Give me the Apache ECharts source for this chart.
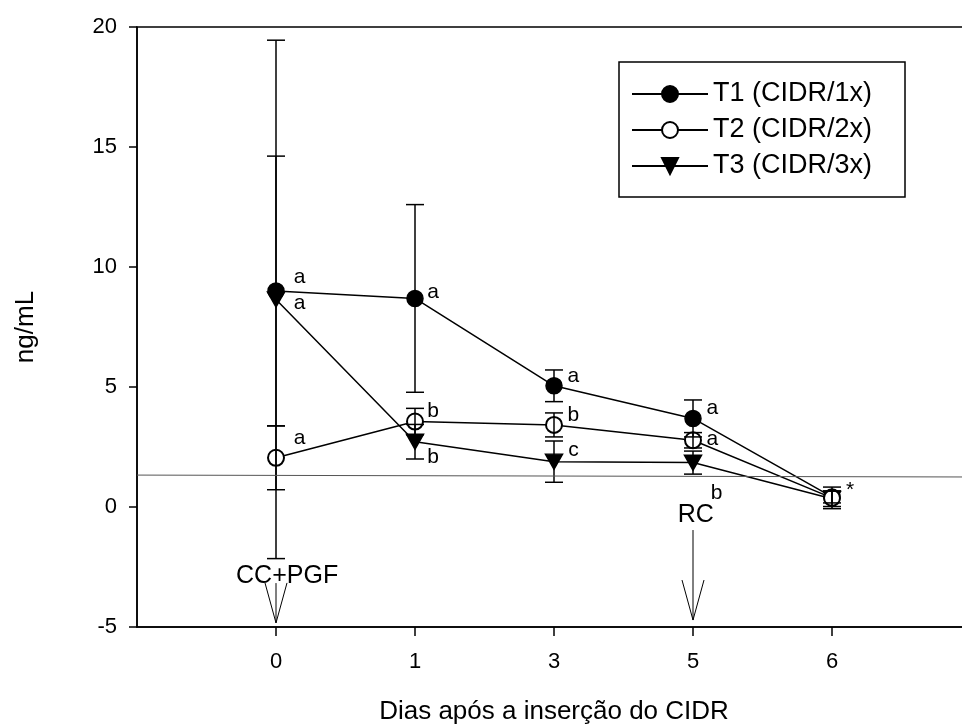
<!DOCTYPE html>
<html>
<head>
<meta charset="utf-8">
<script src="https://cdn.jsdelivr.net/npm/echarts@6/dist/echarts.min.js"></script>
<style>
  html, body { margin: 0; padding: 0; background: #fff; }
  #chart { width: 962px; height: 726px; }
</style>
</head>
<body>
<div id="chart"></div>
<script>
// days are placed at evenly spaced positions 0..4 on a value axis
const days = ['0', '1', '3', '5', '6']
const seriesNames = ['T1 (CIDR/1x)', 'T2 (CIDR/2x)', 'T3 (CIDR/3x)']

const t1Mean = [9.0, 8.69, 5.05, 3.69, 0.42]
const t1Err = [5.62, 3.91, 0.66, 0.77, 0.25]
const t2Mean = [2.05, 3.56, 3.42, 2.78, 0.38]
const t2Err = [1.33, 0.55, 0.50, 0.32, 0.45]
const t3Mean = [8.65, 2.72, 1.89, 1.85, 0.34]
const t3Err = [10.8, 0.72, 0.86, 0.48, 0.32]

const yTicks = [-5, 0, 5, 10, 15, 20]

// reference line drawn across the plot
const refLine = [[-1, 1.33], [5, 1.25]]

// event arrows (CC+PGF, RC)
const arrowX = [0, 3]
const arrowTop = [-3.17, -0.96]
const arrowBottom = [-4.83, -4.71]
const arrowLabel = ['CC+PGF', 'RC']
const arrowLabelX = [0.08, 3.02]
const arrowLabelY = [-2.87, -0.33]

// significance letters
const annText = ['a', 'a', 'a', 'a', 'b', 'b', 'a', 'b', 'c', 'a', 'a', 'b', '*']
const annX = [0.17, 0.17, 0.17, 1.13, 1.13, 1.13, 2.14, 2.14, 2.14, 3.14, 3.14, 3.17, 4.13]
const annY = [9.58, 8.5, 2.88, 8.96, 4.0, 2.08, 5.46, 3.83, 2.38, 4.13, 2.83, 0.58, 0.72]

const FONT = '"Liberation Sans", Arial, sans-serif'
const downTriangle = 'path://M0,0 L20,0 L10,17 Z'

function pairs (ys) {
  return ys.map((y, i) => [i, y])
}

function errData (mean, err) {
  return mean.map((m, i) => [i, m - err[i], m + err[i]])
}

function errorBarItem (params, api) {
  const x = api.value(0)
  const lo = api.coord([x, api.value(1)])
  const hi = api.coord([x, api.value(2)])
  const w = 9
  const style = { stroke: '#000', lineWidth: 1.5 }
  return {
    type: 'group',
    children: [
      { type: 'line', shape: { x1: lo[0], y1: lo[1], x2: hi[0], y2: hi[1] }, style },
      { type: 'line', shape: { x1: lo[0] - w, y1: lo[1], x2: lo[0] + w, y2: lo[1] }, style },
      { type: 'line', shape: { x1: hi[0] - w, y1: hi[1], x2: hi[0] + w, y2: hi[1] }, style }
    ]
  }
}

function arrowItem (params, api) {
  const x = api.value(0)
  const top = api.coord([x, api.value(1)])
  const bot = api.coord([x, api.value(2)])
  const style = { stroke: '#000', lineWidth: 1, fill: null }
  return {
    type: 'group',
    children: [
      { type: 'line', shape: { x1: top[0], y1: top[1], x2: bot[0], y2: bot[1] }, style },
      { type: 'polyline', shape: { points: [[bot[0] - 11, bot[1] - 40], [bot[0], bot[1]], [bot[0] + 11, bot[1] - 40]] }, style }
    ]
  }
}

function lineSeries (name, mean, symbol, extra) {
  return Object.assign({
    name: name,
    type: 'line',
    data: pairs(mean),
    symbol: symbol,
    symbolSize: 16,
    showAllSymbol: true,
    lineStyle: { color: '#000', width: 1.5 },
    itemStyle: { color: '#000', borderColor: '#000', borderWidth: 1.5 },
    z: 2
  }, extra || {})
}

function errSeries (mean, err) {
  return {
    type: 'custom',
    renderItem: errorBarItem,
    data: errData(mean, err),
    silent: true,
    z: 4
  }
}

function textLabels (names, xs, ys, size) {
  return {
    type: 'scatter',
    symbolSize: 0,
    silent: true,
    z: 5,
    itemStyle: { opacity: 1, color: '#000' },
    data: names.map((t, i) => ({ value: [xs[i], ys[i]], name: t })),
    label: {
      show: true,
      position: 'inside',
      formatter: p => p.name,
      fontFamily: FONT,
      fontSize: size,
      color: '#000',
      opacity: 1,
      textBorderWidth: 0,
      textBorderColor: 'transparent'
    }
  }
}

const chart = echarts.init(document.getElementById('chart'))

const option = {
  backgroundColor: '#fff',
  animation: false,
  textStyle: { fontFamily: FONT, color: '#000' },
  grid: {
    left: 137,
    top: 27,
    width: 834,
    height: 600,
    show: true,
    borderColor: '#000',
    borderWidth: 1.5,
    backgroundColor: '#fff',
    outerBoundsMode: 'none'
  },
  legend: {
    orient: 'vertical',
    left: 619,
    top: 62,
    padding: [17, 33, 16, 12],
    itemWidth: 76,
    itemHeight: 20,
    itemGap: 6,
    borderColor: '#000',
    borderWidth: 1.5,
    backgroundColor: '#fff',
    textStyle: { fontFamily: FONT, fontSize: 27, color: '#000', lineHeight: 30 },
    data: seriesNames
  },
  xAxis: {
    type: 'value',
    min: -1,
    max: 5,
    interval: 1,
    name: 'Dias após a inserção do CIDR',
    nameLocation: 'middle',
    nameGap: 72,
    nameMoveOverlap: false,
    nameTextStyle: { fontFamily: FONT, fontSize: 26, color: '#000' },
    axisLine: { show: true, onZero: false, lineStyle: { color: '#000', width: 1.5 } },
    axisTick: { show: true, inside: false, length: 9, customValues: [0, 1, 2, 3, 4], lineStyle: { color: '#000', width: 1.5 } },
    axisLabel: {
      show: true,
      margin: 24,
      customValues: [0, 1, 2, 3, 4],
      fontFamily: FONT,
      fontSize: 22,
      color: '#000',
      formatter: v => days[Math.round(v)] || ''
    },
    splitLine: { show: false }
  },
  yAxis: {
    type: 'value',
    min: -5,
    max: 20,
    interval: 5,
    name: 'ng/mL',
    nameLocation: 'middle',
    nameGap: 98,
    nameMoveOverlap: false,
    nameTextStyle: { fontFamily: FONT, fontSize: 26, color: '#000' },
    axisLine: { show: true, onZero: false, lineStyle: { color: '#000', width: 1.5 } },
    axisTick: { show: true, inside: false, length: 8, lineStyle: { color: '#000', width: 1.5 } },
    axisLabel: {
      margin: 20,
      fontFamily: FONT,
      fontSize: 22,
      color: '#000',
      customValues: yTicks
    },
    splitLine: { show: false }
  },
  series: [
    lineSeries(seriesNames[0], t1Mean, 'circle', {
      markLine: {
        silent: true,
        symbol: 'none',
        label: { show: false },
        lineStyle: { color: '#555', width: 1, type: 'solid' },
        data: [[{ coord: refLine[0] }, { coord: refLine[1] }]]
      }
    }),
    lineSeries(seriesNames[1], t2Mean, 'emptyCircle', { z: 3 }),
    lineSeries(seriesNames[2], t3Mean, downTriangle, { symbolSize: [17, 15] }),
    errSeries(t1Mean, t1Err),
    errSeries(t2Mean, t2Err),
    errSeries(t3Mean, t3Err),
    {
      type: 'custom',
      renderItem: arrowItem,
      silent: true,
      data: arrowX.map((x, i) => [x, arrowTop[i], arrowBottom[i]]),
      z: 4
    },
    textLabels(arrowLabel, arrowLabelX, arrowLabelY, 25),
    textLabels(annText, annX, annY, 21)
  ]
}

chart.setOption(option)
</script>
</body>
</html>
